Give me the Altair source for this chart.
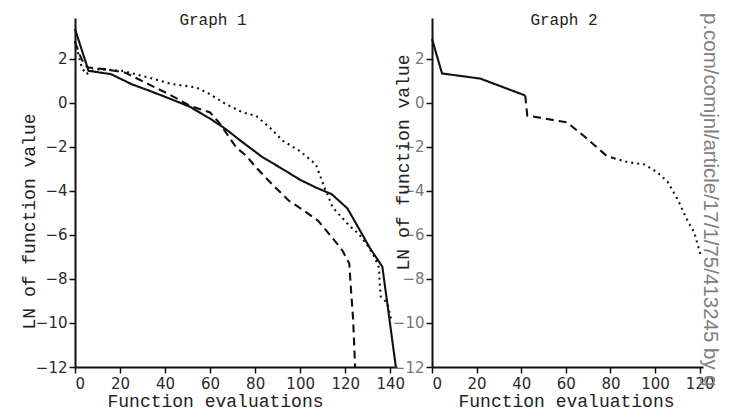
import altair as alt
import pandas as pd

# ---------------- Graph 1 ----------------
g1_solid_x = [0, 6, 16, 25, 35, 43, 51, 60, 67, 74.5, 83, 92, 100, 107, 114, 121, 126, 131, 136.5, 142.5]
g1_solid_y = [3.35, 1.45, 1.3, 0.85, 0.47, 0.15, -0.18, -0.72, -1.2, -1.8, -2.45, -3.0, -3.5, -3.85, -4.15, -4.8, -5.7, -6.6, -7.45, -12.0]

g1_dashed_x = [0, 2, 4, 6, 13, 22, 29.6, 35.5, 41.5, 46, 51, 60, 64, 67, 71.6, 76, 80.4, 89, 95, 101, 108, 114, 118.7, 121.8, 122.5, 123.5, 124.4]
g1_dashed_y = [2.75, 2.2, 1.75, 1.6, 1.53, 1.38, 1.0, 0.7, 0.4, 0.15, -0.14, -0.44, -0.9, -1.35, -2.03, -2.4, -2.94, -3.85, -4.45, -4.85, -5.36, -6.1, -6.7, -7.3, -8.4, -9.8, -12.0]

g1_dotted_x = [0, 3, 5, 9, 21, 32.6, 43, 53.8, 59.7, 67, 74.5, 80.4, 86.4, 92.3, 99.7, 107, 110.8, 114.5, 118, 122, 126, 130, 133, 135, 135.3, 135.8, 138.7, 140.3]
g1_dotted_y = [2.82, 1.6, 1.3, 1.53, 1.45, 1.15, 0.85, 0.7, 0.4, -0.06, -0.44, -0.59, -1.12, -1.73, -2.18, -2.8, -3.85, -4.76, -5.15, -5.6, -5.95, -6.5, -7.0, -7.5, -8.2, -8.8, -9.1, -9.8]

# ---------------- Graph 2 ----------------
g2_solid_x = [0, 4.5, 21.6, 41.8]
g2_solid_y = [2.9, 1.33, 1.1, 0.33]
g2_dashed_x = [41.8, 42.7, 60.5, 68, 78.4, 81.5]
g2_dashed_y = [0.33, -0.58, -0.89, -1.5, -2.42, -2.52]
g2_dotted_x = [81.5, 88, 95.3, 101.2, 105.7, 110.2, 113.8, 117.6, 119, 120.4]
g2_dotted_y = [-2.52, -2.7, -2.8, -3.17, -3.6, -4.4, -5.2, -5.9, -6.4, -6.9]

panel_titles = ["Graph 1", "Graph 2"]
x_ticks_1 = [0, 20, 40, 60, 80, 100, 120, 140]
x_ticks_2 = [0, 20, 40, 60, 80, 100, 120]
y_ticks = [-12, -10, -8, -6, -4, -2, 0, 2]
x_title = "Function evaluations"
y_title = "LN of function value"
watermark = ["p.com/comjnl/article/17/1/75/413245 by g"]


def series_frame(parts):
    rows = []
    for style, xs, ys in parts:
        for i, (xv, yv) in enumerate(zip(xs, ys)):
            rows.append({"x": xv, "y": yv, "style": style, "i": i})
    return pd.DataFrame(rows)


df1 = series_frame([("solid", g1_solid_x, g1_solid_y),
                    ("dashed", g1_dashed_x, g1_dashed_y),
                    ("dotted", g1_dotted_x, g1_dotted_y)])
df2 = series_frame([("solid", g2_solid_x, g2_solid_y),
                    ("dashed", g2_dashed_x, g2_dashed_y),
                    ("dotted", g2_dotted_x, g2_dotted_y)])

dash_scale = alt.Scale(domain=["solid", "dashed", "dotted"],
                       range=[[1, 0], [8, 5], [2, 4]])

W1, W2, H = 322, 271, 349
YDOM = [-12, 3.85]


def make_panel(df, xmax, xticks, width, title, title_x, ytitle_x, ytitle_y, xtitle_x,
               ylabel_color, extra=None):
    x = alt.X("x:Q", scale=alt.Scale(domain=[0, xmax], nice=False, zero=False),
              axis=alt.Axis(values=xticks, format="d", title=x_title,
                            tickSize=6, labelPadding=3,
                            titleX=xtitle_x, titleY=39, titleBaseline="alphabetic",
                            titleAlign="center"))
    y = alt.Y("y:Q", scale=alt.Scale(domain=YDOM, nice=False, zero=False),
              axis=alt.Axis(values=y_ticks, format="d", title=y_title,
                            tickSize=6, labelPadding=2, labelColor=ylabel_color,
                            titleX=ytitle_x, titleY=ytitle_y, titleAngle=270,
                            titleBaseline="alphabetic", titleAlign="center"))
    lines = alt.Chart(df).mark_line(color="#111111", strokeWidth=2.1).encode(
        x=x, y=y,
        strokeDash=alt.StrokeDash("style:N", scale=dash_scale, legend=None),
        order=alt.Order("i:Q"),
    )
    ttl = alt.Chart(pd.DataFrame({"t": [title]})).mark_text(
        font="Liberation Mono", fontSize=16, baseline="alphabetic", align="center",
        color="#222222"
    ).encode(x=alt.value(title_x), y=alt.value(7), text="t:N")
    layers = [lines, ttl]
    if extra is not None:
        layers.append(extra)
    return alt.layer(*layers).properties(width=width, height=H)


wm = alt.Chart(pd.DataFrame({"t": watermark})).mark_text(
    font="Liberation Sans", fontSize=20.5, angle=90, align="left", baseline="middle",
    color="#808080"
).encode(x=alt.value(278), y=alt.value(-5), text="t:N")

p1 = make_panel(df1, 143, x_ticks_1, W1, panel_titles[0], 138, -41, 203, 140, "#2a2a2a")
p2 = make_panel(df2, 121.5, x_ticks_2, W2, panel_titles[1], 132, -24, 144, 134, "#777777", extra=wm)

chart = alt.hconcat(p1, p2, spacing=35, bounds="flush").properties(
    padding={"left": 12, "top": 4, "right": 0, "bottom": 0}
).configure_view(stroke=None).configure_axis(
    grid=False,
    domainColor="#111111", domainWidth=2,
    tickColor="#111111", tickWidth=1.5,
    labelFont="DejaVu Sans", labelFontSize=15, labelColor="#2a2a2a",
    titleFont="Liberation Mono", titleFontSize=18, titleFontWeight="normal",
    titleColor="#222222",
)

chart.save("out.html", embed_options={"renderer": "svg", "actions": False})
